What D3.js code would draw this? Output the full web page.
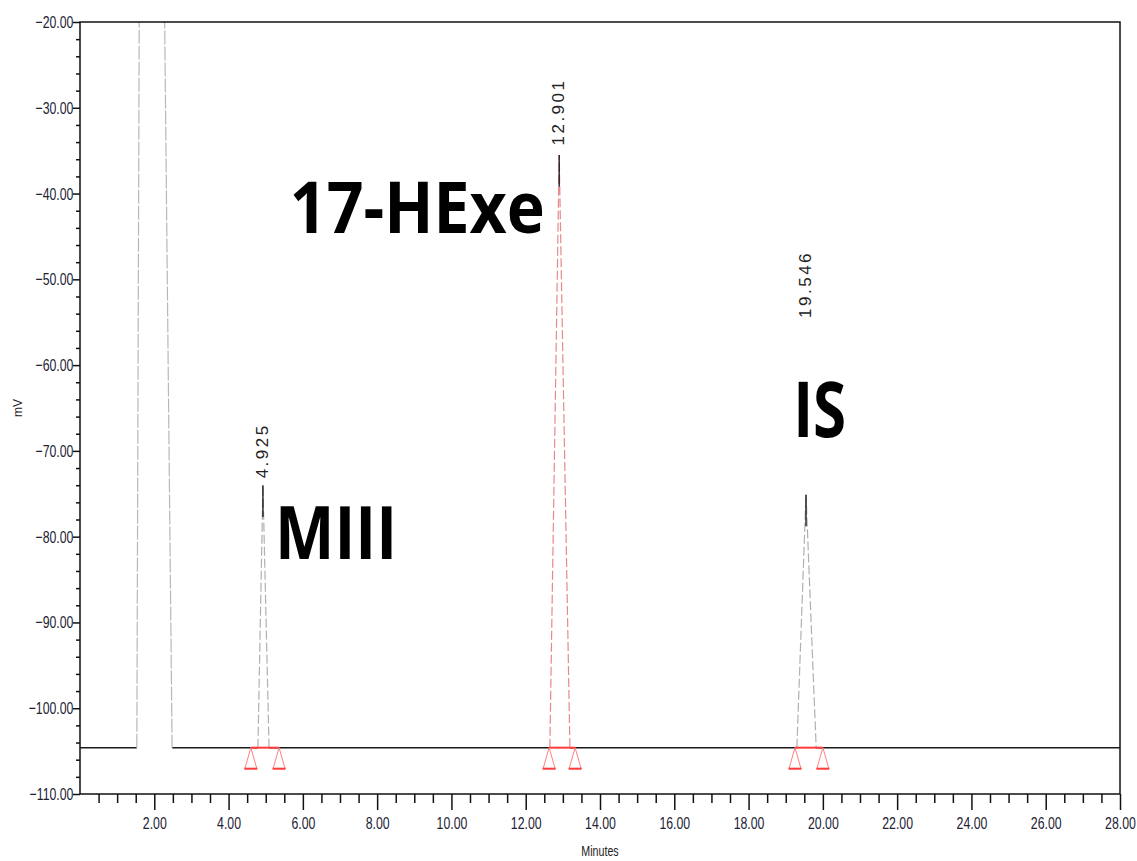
<!DOCTYPE html>
<html>
<head>
<meta charset="utf-8">
<script src="https://cdn.jsdelivr.net/npm/d3@7"></script>
<style>
  body { margin: 0; background: #fff; }
</style>
</head>
<body>
<div id="chart"></div>
<script>
// values
const baselineMv = -104.6;
const solventTimes = [1.53, 1.60, 2.26, 2.48];
const solventMv = [baselineMv, -12, -12, baselineMv];
const peakTimes = [4.925, 12.901, 19.546];
const peakApex = [-74.0, -35.5, -75.1];
const peakFootL = [4.79, 12.65, 19.30];
const peakFootR = [5.09, 13.19, 19.82];
const markStart = [4.60, 12.63, 19.25];
const markEnd = [5.36, 13.33, 20.00];
const rtLabels = ['4.925', '12.901', '19.546'];
const peakNames = ['MIII', '17-HExe', 'IS'];
const xTicks = [2, 4, 6, 8, 10, 12, 14, 16, 18, 20, 22, 24, 26, 28];
const yTicks = [-110, -100, -90, -80, -70, -60, -50, -40, -30, -20];

// where the annotations sit (minutes / mV)
const rtLabelMv = [-73.2, -34.4, -54.5];
const nameAt = [[5.25, -82.6], [5.65, -44.6], [19.2, -68.4]];
const nameSize = [73, 71, 77];
const nameWidth = [122, 255, 53];

const width = 1137, height = 861;
const m = {left: 80, right: 1120, top: 22, bottom: 794};
const sans = '"Liberation Sans", Arial, sans-serif';
const squeeze = 'scale(0.82,1.15)'; // condensed, tall tick font

const svg = d3.select('#chart').append('svg')
    .attr('width', width).attr('height', height);

const x = d3.scaleLinear().domain([0, 28]).range([m.left, m.right]);
const y = d3.scaleLinear().domain([-110, -20]).range([m.bottom, m.top]);

svg.append('defs').append('clipPath').attr('id', 'clip')
    .append('rect').attr('x', m.left).attr('y', m.top)
    .attr('width', m.right - m.left).attr('height', m.bottom - m.top);

const plot = svg.append('g').attr('clip-path', 'url(#clip)');
const line = d3.line().x(d => x(d[0])).y(d => y(d[1]));

// baseline pieces (black) between solvent and each peak
let cuts = [[0, solventTimes[0]], [solventTimes[3], peakFootL[0]]];
for (let i = 0; i < peakTimes.length; i++) {
    let next = i < peakTimes.length - 1 ? peakFootL[i + 1] : 28;
    cuts.push([peakFootR[i], next]);
}
plot.selectAll('.base').data(cuts).enter().append('path')
    .attr('d', d => line([[d[0], baselineMv], [d[1], baselineMv]]))
    .attr('stroke', '#1a1a1a').attr('stroke-width', 1.5).attr('fill', 'none');

// solvent front
plot.append('path')
    .attr('d', line(solventTimes.map((t, i) => [t, solventMv[i]])))
    .attr('stroke', '#b8b8b8').attr('stroke-width', 1.2)
    .attr('stroke-dasharray', '14,2').attr('fill', 'none');

// peaks
peakTimes.forEach((t, i) => {
    let col = i === 1 ? '#e58a8a' : '#b0b0b0';
    plot.append('path')
        .attr('d', line([[peakFootL[i], baselineMv], [t, peakApex[i]], [peakFootR[i], baselineMv]]))
        .attr('stroke', col).attr('stroke-width', 1.2)
        .attr('stroke-dasharray', '9,3').attr('fill', 'none');
    // dark apex
    plot.append('path')
        .attr('d', line([[t, peakApex[i]], [t, peakApex[i] - 3.7]]))
        .attr('stroke', '#111').attr('stroke-width', 1.3);
});

// integration marks
const red = '#ff3b3b';
peakTimes.forEach((t, i) => {
    plot.append('path')
        .attr('d', line([[markStart[i], baselineMv], [markEnd[i], baselineMv]]))
        .attr('stroke', red).attr('stroke-width', 2);
    [markStart[i], markEnd[i]].forEach(mk => {
        let cx = x(mk), cy = y(baselineMv);
        svg.append('path')
            .attr('d', `M${cx},${cy} L${cx - 6},${cy + 21} L${cx + 6},${cy + 21} Z`)
            .attr('stroke', '#ff8080').attr('stroke-width', 1).attr('fill', 'none');
        svg.append('line')
            .attr('x1', cx - 6.5).attr('x2', cx + 6.5)
            .attr('y1', cy + 21).attr('y2', cy + 21)
            .attr('stroke', red).attr('stroke-width', 2);
    });
});

// retention time labels
peakTimes.forEach((t, i) => {
    svg.append('text')
        .attr('transform', `translate(${x(t) + 5},${y(rtLabelMv[i])}) rotate(-90)`)
        .attr('font-family', sans)
        .attr('font-size', 17).attr('letter-spacing', 2.5)
        .attr('fill', '#222')
        .text(rtLabels[i]);
});

// compound names
peakNames.forEach((n, i) => {
    svg.append('text')
        .attr('x', x(nameAt[i][0])).attr('y', y(nameAt[i][1]))
        .attr('font-family', '"Open Sans", "Noto Sans", sans-serif')
        .attr('font-weight', 700).attr('font-size', nameSize[i])
        .attr('textLength', nameWidth[i]).attr('lengthAdjust', 'spacingAndGlyphs')
        .attr('fill', '#000')
        .text(n);
});

// axes
const xMinor = d3.range(0.5, 28, 0.5).filter(v => v % 2 !== 0);
const yMinor = d3.range(-108, -20, 2).filter(v => v % 10 !== 0);

svg.append('g').attr('transform', `translate(0,${m.bottom})`)
    .call(d3.axisBottom(x).tickValues(xMinor).tickSize(9).tickFormat(''));
svg.append('g').attr('class', 'xmaj').attr('transform', `translate(0,${m.bottom})`)
    .call(d3.axisBottom(x).tickValues(xTicks).tickSize(16).tickPadding(4).tickFormat(d3.format('.2f')));
svg.append('g').attr('transform', `translate(${m.left},0)`)
    .call(d3.axisLeft(y).tickValues(yMinor).tickSize(4).tickFormat(''));
svg.append('g').attr('class', 'ymaj').attr('transform', `translate(${m.left},0)`)
    .call(d3.axisLeft(y).tickValues(yTicks).tickSize(7).tickPadding(1).tickFormat(d3.format('.2f')));

svg.selectAll('.domain').remove();
svg.selectAll('.tick line').attr('stroke', '#111').attr('stroke-width', 1.5);
svg.selectAll('.tick text')
    .attr('font-family', sans).attr('font-size', 15).attr('fill', '#223')
    .attr('transform', squeeze);

// frame
svg.append('rect').attr('x', m.left).attr('y', m.top)
    .attr('width', m.right - m.left).attr('height', m.bottom - m.top)
    .attr('fill', 'none').attr('stroke', '#111').attr('stroke-width', 1.5);

// axis titles
svg.append('text')
    .attr('transform', 'translate(22,408) rotate(-90)')
    .attr('text-anchor', 'middle')
    .attr('font-family', sans).attr('font-size', 12)
    .attr('fill', '#222').text('mV');
svg.append('text')
    .attr('transform', `translate(600,856) ${squeeze}`)
    .attr('text-anchor', 'middle')
    .attr('font-family', sans).attr('font-size', 13)
    .attr('fill', '#222').text('Minutes');
</script>
</body>
</html>
